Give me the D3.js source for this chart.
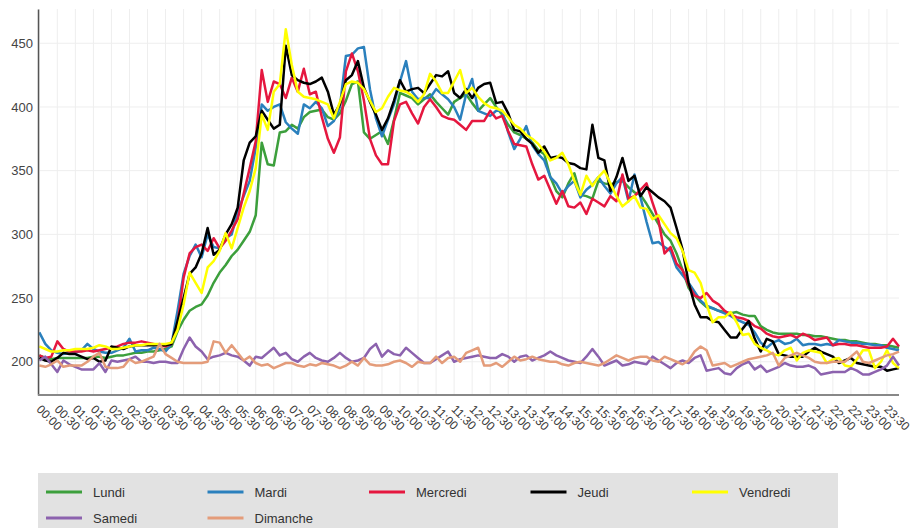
<!DOCTYPE html>
<html><head><meta charset="utf-8">
<script src="https://cdn.jsdelivr.net/npm/d3@7/dist/d3.min.js"></script>
<style>
body{margin:0;background:#fff;}
svg{display:block;font-family:"Liberation Sans",Arial,sans-serif;}
</style></head>
<body><svg id="c" width="916" height="528"></svg>
<script>
// 10-minute slots, 00:00 .. 23:50
const tickLabels = [];
for (let h = 0; h < 24; h++) { const hh = String(h).padStart(2,"0"); tickLabels.push(hh+":00", hh+":30"); }
const yTicks = [200,250,300,350,400,450];
const seriesNames = ["Lundi","Mardi","Mercredi","Jeudi","Vendredi","Samedi","Dimanche"];
const seriesColors = ["#3c9f3c","#2a80bd","#e5173f","#000000","#ffff00","#8c62ae","#e49c7a"];

const lundi = [205,203,202,203,203,203, 203,203,203,204,204,203, 204,205,205,206,207,207, 208,208,209,210,212,224,
 233,240,243,245,252,262, 270,276,283,288,295,302, 315,372,355,354,380,381, 386,383,392,396,397,398,
 392,390,395,405,418,420, 380,375,378,381,371,390, 411,409,407,402,406,410, 404,399,394,404,407,410,
 403,397,402,407,400,394, 386,380,378,375,372,366, 363,345,334,329,340,348, 331,330,328,342,340,339,
 341,342,337,333,331,324, 316,308,300,295,285,272, 258,252,247,243,242,240, 239,238,239,237,236,236,
 228,225,223,222,222,222, 222,221,221,220,220,219, 218,217,217,216,216,215, 214,214,213,213,212,211];
const mardi = [223,214,209,207,206,207, 207,209,214,210,208,207, 207,209,211,218,208,209, 209,211,210,208,214,240,
 269,283,292,282,300,290, 289,297,300,318,330,342, 368,402,397,400,402,388, 383,379,402,399,404,399,
 385,389,400,440,441,446, 447,414,391,377,390,402, 420,436,412,406,407,407, 414,410,406,400,390,410,
 422,397,395,393,397,397, 380,367,375,385,370,363, 358,345,340,332,338,342, 329,335,339,345,338,332,
 340,345,326,347,329,310, 293,294,290,287,274,268, 262,255,248,244,242,240, 238,236,233,231,229,223,
 215,211,215,217,214,215, 218,213,214,214,213,214, 213,217,216,215,215,214, 214,213,213,211,210,209];
const mercredi = [205,203,204,216,210,208, 208,208,209,208,209,210, 211,212,214,215,215,216, 215,214,213,212,214,230,
 266,285,290,292,287,297, 289,295,303,312,332,352, 373,429,404,420,418,407, 423,412,430,410,412,392,
 375,364,376,428,442,428, 405,375,362,355,355,389, 402,404,395,387,400,406, 400,393,391,390,386,382,
 389,389,389,397,391,393, 381,371,370,369,355,343, 346,335,324,334,322,321, 325,316,328,325,322,330,
 326,347,328,330,335,340, 325,311,285,290,277,272, 260,252,250,254,248,245, 240,237,235,234,232,228,
 226,222,220,219,220,221, 219,222,220,217,218,219, 213,214,214,213,213,212, 211,211,211,212,218,212];
const jeudi = [203,201,200,203,207,206, 206,204,202,203,200,201, 212,211,210,212,213,213, 213,213,213,213,214,232,
 250,269,274,285,305,284, 288,300,308,321,358,372, 377,397,390,383,386,448, 425,421,419,418,420,423,
 412,394,402,421,425,436, 415,404,394,382,391,405, 421,412,414,415,411,418, 425,424,428,411,407,414,
 407,415,418,419,403,404, 395,382,381,375,371,364, 369,360,361,360,356,355, 352,351,386,360,358,334,
 345,360,342,346,330,337, 333,329,326,321,305,288, 262,245,235,235,232,231, 225,219,219,226,232,218,
 208,218,216,206,205,204, 204,204,208,211,208,206, 204,199,201,203,199,198, 197,196,196,193,194,195];
const vendredi = [212,210,208,208,209,209, 210,210,210,211,213,212, 210,210,211,212,213,213, 214,214,214,214,215,225,
 245,270,262,254,274,279, 287,301,289,305,321,334, 352,394,382,412,418,461, 433,412,408,407,406,404,
 402,391,404,418,420,419, 414,405,396,399,408,415, 413,412,409,404,410,426, 420,411,411,420,429,411,
 415,408,403,400,399,397, 392,386,383,378,375,371, 365,358,360,364,355,342, 331,346,338,345,350,340,
 330,322,326,330,321,320, 312,315,308,301,297,287, 272,270,262,245,231,235, 235,239,231,221,222,214,
 211,209,206,205,209,211, 201,207,209,208,207,199, 202,203,197,196,202,209, 209,195,200,209,199,195];
const samedi = [201,204,198,192,201,198, 196,194,194,194,199,192, 201,200,201,202,204,200, 200,199,200,200,199,199,
 210,219,212,208,202,204, 205,207,205,204,201,197, 204,203,207,211,205,207, 202,200,204,207,203,201,
 200,203,207,203,200,201, 203,210,214,204,209,206, 205,211,207,203,199,199, 202,205,208,200,202,203,
 204,205,204,203,203,206, 204,200,204,205,201,203, 205,208,205,203,201,200, 199,204,210,204,197,199,
 201,197,198,200,199,198, 204,201,198,195,199,201, 199,203,205,193,194,195, 191,190,195,198,200,194,
 197,192,194,196,199,197, 196,196,197,195,190,191, 192,192,192,195,193,190, 190,192,194,197,204,197];
const dimanche = [197,196,198,201,196,197, 197,197,200,204,207,196, 195,195,196,202,199,200, 202,204,214,206,203,200,
 199,199,199,199,200,216, 215,207,213,207,201,204, 199,197,198,195,197,199, 199,197,196,198,197,199,
 198,197,195,197,200,197, 203,198,197,197,198,200, 201,199,196,200,199,199, 204,199,203,204,200,207,
 209,211,197,197,199,196, 200,204,201,202,204,202, 201,200,200,198,197,199, 200,199,198,197,199,202,
 205,203,201,203,204,204, 201,200,204,202,200,198, 201,208,212,209,197,198, 199,196,198,200,202,203,
 204,205,207,197,203,205, 207,205,203,200,199,199, 200,200,200,204,208,200, 199,201,203,205,206,208];

const allSeries = [lundi,mardi,mercredi,jeudi,vendredi,samedi,dimanche];

const svg = d3.select("#c");
const plotLeft = 38, plotRight = 899, plotTop = 9, plotBottom = 395;
const x = d3.scaleLinear().domain([0, 143]).range([39.3, 899]);
const y = d3.scaleLinear().domain([173.9, 476.9]).range([plotBottom, plotTop]);
const tickIdx = tickLabels.map((_, k) => k * 3);

// grid
const g = svg.append("g");
g.selectAll("line.vg").data(tickIdx).join("line")
  .attr("x1", d => x(d)).attr("x2", d => x(d)).attr("y1", plotTop).attr("y2", plotBottom)
  .attr("stroke", "#eeeeee").attr("stroke-width", 1);
g.selectAll("line.hg").data(yTicks).join("line")
  .attr("x1", plotLeft).attr("x2", plotRight).attr("y1", d => y(d)).attr("y2", d => y(d))
  .attr("stroke", "#eeeeee").attr("stroke-width", 1);

// lines
const line = d3.line().x((d, i) => x(i)).y(d => y(d));
svg.append("g").selectAll("path").data(allSeries).join("path")
  .attr("d", d => line(d)).attr("fill", "none")
  .attr("stroke", (d, i) => seriesColors[i]).attr("stroke-width", 2.5)
  .attr("stroke-linejoin", "round");

// y axis
const yAxis = d3.axisLeft(y).tickValues(yTicks).tickSize(0).tickPadding(5);
const ya = svg.append("g").attr("transform", `translate(${plotLeft},0)`).call(yAxis);
ya.select(".domain").attr("stroke", "#555").attr("stroke-width", 1.5);
ya.selectAll("text").attr("font-size", 13).attr("fill", "#444").attr("font-family", "Liberation Sans, Arial, sans-serif");

// x axis
const xAxis = d3.axisBottom(x).tickValues(tickIdx).tickFormat((d, k) => tickLabels[k]).tickSize(0);
const xa = svg.append("g").attr("transform", `translate(0,${plotBottom})`).call(xAxis);
xa.select(".domain").attr("d", `M${plotLeft},0H${plotRight}`).attr("stroke", "#888").attr("stroke-width", 2);
xa.selectAll("text").attr("font-size", 12).attr("fill", "#3a3a3a")
  .attr("font-family", "Liberation Sans, Arial, sans-serif")
  .attr("text-anchor", "start").attr("y", 0).attr("dy", "0.35em")
  .attr("transform", "translate(-1,12) rotate(45)");

// legend
const lg = svg.append("g");
lg.append("rect").attr("x", 38).attr("y", 473).attr("width", 800).attr("height", 60).attr("fill", "#e2e2e2");
const items = lg.selectAll("g.it").data(seriesNames).join("g")
  .attr("transform", (d, i) => `translate(${46 + (i % 5) * 161.5},${i < 5 ? 492 : 518})`);
items.append("line").attr("x1", 0).attr("x2", 36).attr("y1", 0).attr("y2", 0)
  .attr("stroke", (d, i) => seriesColors[i]).attr("stroke-width", 3);
items.append("text").attr("x", 47).attr("y", 0).attr("dy", "0.35em")
  .attr("font-size", 13).attr("fill", "#333").text(d => d);
</script></body></html>
